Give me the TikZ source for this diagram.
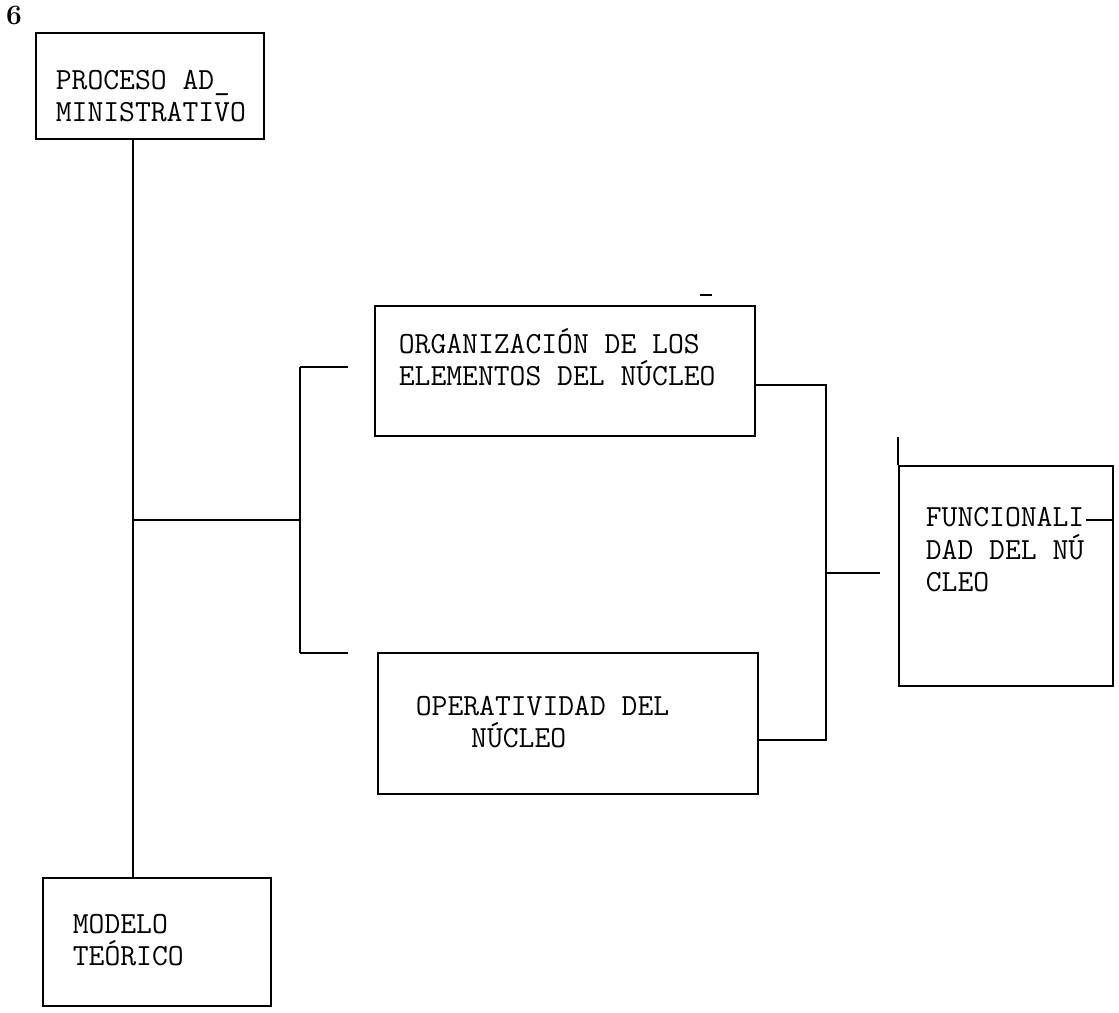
\documentclass[tikz,border=0pt]{standalone}
\usepackage{fontspec}
\usetikzlibrary{positioning}
\tikzset{
  caja/.style={draw, rectangle, inner sep=0pt, anchor=north west},
  rotulo/.style={font=\ttfamily\fontsize{17.5}{18.5}\selectfont, align=left, anchor=west, inner sep=0pt},
}

\begin{document}
\begin{tikzpicture}[x=0.02cm, y=-0.02cm, line width=1pt]
  \useasboundingbox (0,0) rectangle (1119,1012);

  % page number
  \node[font=\rmfamily\bfseries\fontsize{16}{16}\selectfont, inner sep=0pt] (pagina) at (14,15) {6};

  % Boxes
  \node[caja, minimum width=4.56cm, minimum height=2.12cm] (proceso) at (35,32) {};
  \node[rotulo] (proceso-txt) at (55,96) {PROCESO AD\_\\MINISTRATIVO};

  \node[caja, minimum width=7.6cm, minimum height=2.6cm] (organizacion) at (374,305) {};
  \node[rotulo] (organizacion-txt) at (398,357) {ORGANIZACIÓN DE LOS\\ELEMENTOS DEL NÚCLEO};
  \draw (700,295) -- (712,295);

  \node[caja, minimum width=7.6cm, minimum height=2.82cm] (operatividad) at (377,652) {};
  \node[rotulo] (operatividad-txt) at (415,722) {OPERATIVIDAD DEL\\\hspace*{1.8em}NÚCLEO};

  \node[caja, minimum width=4.28cm, minimum height=4.4cm] (funcionalidad) at (898,465) {};
  \node[rotulo] (funcionalidad-txt) at (925,550) {FUNCIONALI\\DAD DEL NÚ\\CLEO};
  \draw (funcionalidad.north west) -- ++(0,-28);
  \draw (1086,520) -- (funcionalidad.east |- 0,520);

  \node[caja, minimum width=4.56cm, minimum height=2.56cm] (modelo) at (42,877) {};
  \node[rotulo] (modelo-txt) at (72,940) {MODELO\\TEÓRICO};

  % Trunk and left bracket
  \coordinate (eje) at (133,520);
  \coordinate (llave) at (300,520);
  \coordinate (llave-sup) at (300,367);
  \coordinate (llave-inf) at (300,653);
  \draw (proceso.south -| eje) -- (modelo.north -| eje);
  \draw (eje) -- (llave);
  \draw (llave-sup) -- (llave-inf);
  \draw (llave-sup) -- ++(48,0);
  \draw (llave-inf) -- ++(48,0);

  % Right bracket
  \coordinate (der-sup) at (826,385);
  \coordinate (der-inf) at (826,740);
  \coordinate (union) at (826,573);
  \draw (organizacion.east |- der-sup) -- (der-sup) -- (der-inf) -- (operatividad.east |- der-inf);
  \draw (union) -- ++(54,0);
\end{tikzpicture}
\end{document}
